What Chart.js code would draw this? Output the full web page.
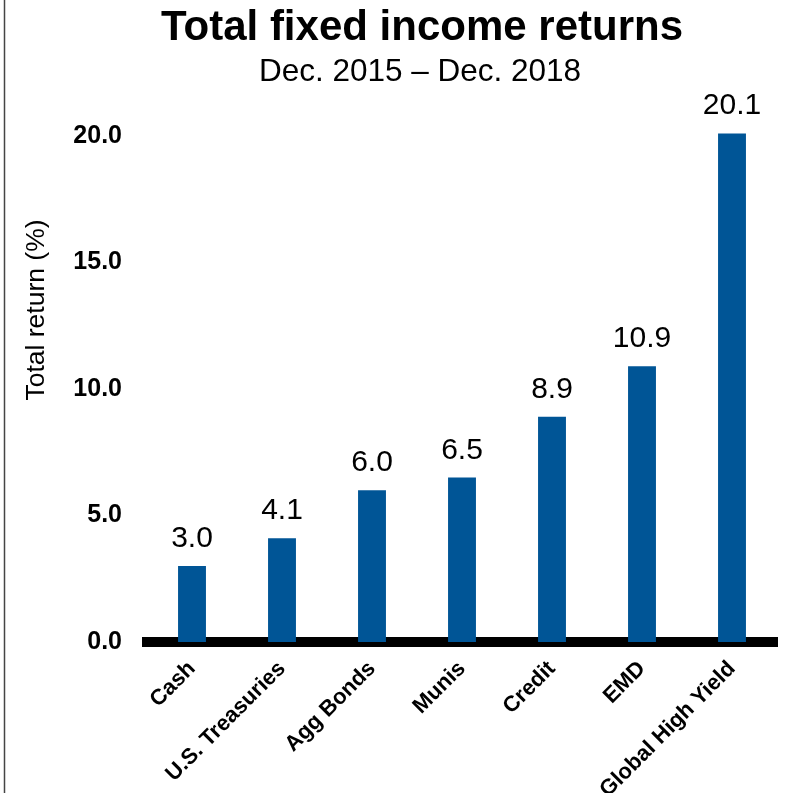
<!DOCTYPE html>
<html>
<head>
<meta charset="utf-8">
<script src="https://cdn.jsdelivr.net/npm/chart.js@4/dist/chart.umd.min.js"></script>
<style>
  html, body { margin: 0; padding: 0; background: #fff; }
  canvas { display: block; }
</style>
</head>
<body>
<canvas id="returnsChart" width="788" height="793"></canvas>
<script>
// data
const categories = ["Cash", "U.S. Treasuries", "Agg Bonds", "Munis", "Credit", "EMD", "Global High Yield"];
const totalReturns = [3.0, 4.1, 6.0, 6.5, 8.9, 10.9, 20.1];
const yTicks = [0, 5, 10, 15, 20];

const titleText = "Total fixed income returns";
const subtitleText = "Dec. 2015 \u2013 Dec. 2018";
const yTitle = "Total return (%)";

const FONT = "'Liberation Sans', Arial, sans-serif";
const BAR_BLUE = "#005596";

// title, subtitle, axis title, value labels and the thin rule on the left edge
const decorations = {
  id: "decorations",
  afterDatasetsDraw(chart) {
    const ctx = chart.ctx;
    const meta = chart.getDatasetMeta(0);
    ctx.save();
    ctx.fillStyle = "#000";
    ctx.textAlign = "center";
    ctx.textBaseline = "alphabetic";
    ctx.font = "30px " + FONT;
    meta.data.forEach((bar, i) => {
      ctx.fillText(totalReturns[i].toFixed(1), bar.x, bar.y - 19);
    });
    ctx.restore();
  },
  afterDraw(chart) {
    const ctx = chart.ctx;
    ctx.save();
    ctx.fillStyle = "#000";
    ctx.textAlign = "center";
    ctx.textBaseline = "alphabetic";
    ctx.font = "bold 42px " + FONT;
    ctx.fillText(titleText, 422, 40);
    ctx.font = "31.5px " + FONT;
    ctx.fillText(subtitleText, 420, 81);

    // y axis title, rotated
    ctx.save();
    ctx.translate(37, 310);
    ctx.rotate(-Math.PI / 2);
    ctx.textBaseline = "middle";
    ctx.font = "26.5px " + FONT;
    ctx.fillText(yTitle, 0, 0);
    ctx.restore();

    ctx.strokeStyle = "#444";
    ctx.lineWidth = 1.5;
    ctx.beginPath();
    ctx.moveTo(4.5, 0);
    ctx.lineTo(4.5, chart.height);
    ctx.stroke();
    ctx.restore();
  }
};

new Chart(document.getElementById("returnsChart"), {
  type: "bar",
  data: {
    labels: categories,
    datasets: [
      {
        label: "Total return",
        data: totalReturns,
        backgroundColor: BAR_BLUE,
        barPercentage: 0.31,
        categoryPercentage: 1.0,
        clip: false
      }
    ]
  },
  options: {
    responsive: false,
    animation: false,
    layout: {
      padding: { top: 136, right: 11, bottom: 0, left: 0 }
    },
    plugins: {
      legend: { display: false },
      tooltip: { enabled: false }
    },
    scales: {
      x: {
        z: 1,
        grid: { display: false },
        border: { display: true, color: "#000", width: 10 },
        ticks: {
          color: "#000",
          font: { family: FONT, size: 22, weight: "bold" },
          minRotation: 45,
          maxRotation: 45,
          padding: 6,
          autoSkip: false
        },
        afterFit(scale) {
          scale.height = 151;
        }
      },
      y: {
        min: 0,
        max: 20,
        grid: { display: false },
        border: { display: false },
        afterBuildTicks(scale) {
          scale.ticks = yTicks.map((v) => ({ value: v }));
        },
        ticks: {
          color: "#000",
          font: { family: FONT, size: 25, weight: "bold" },
          padding: 17,
          callback: (v) => Number(v).toFixed(1)
        },
        afterFit(scale) {
          scale.width = 147;
        }
      }
    }
  },
  plugins: [decorations]
});
</script>
</body>
</html>
